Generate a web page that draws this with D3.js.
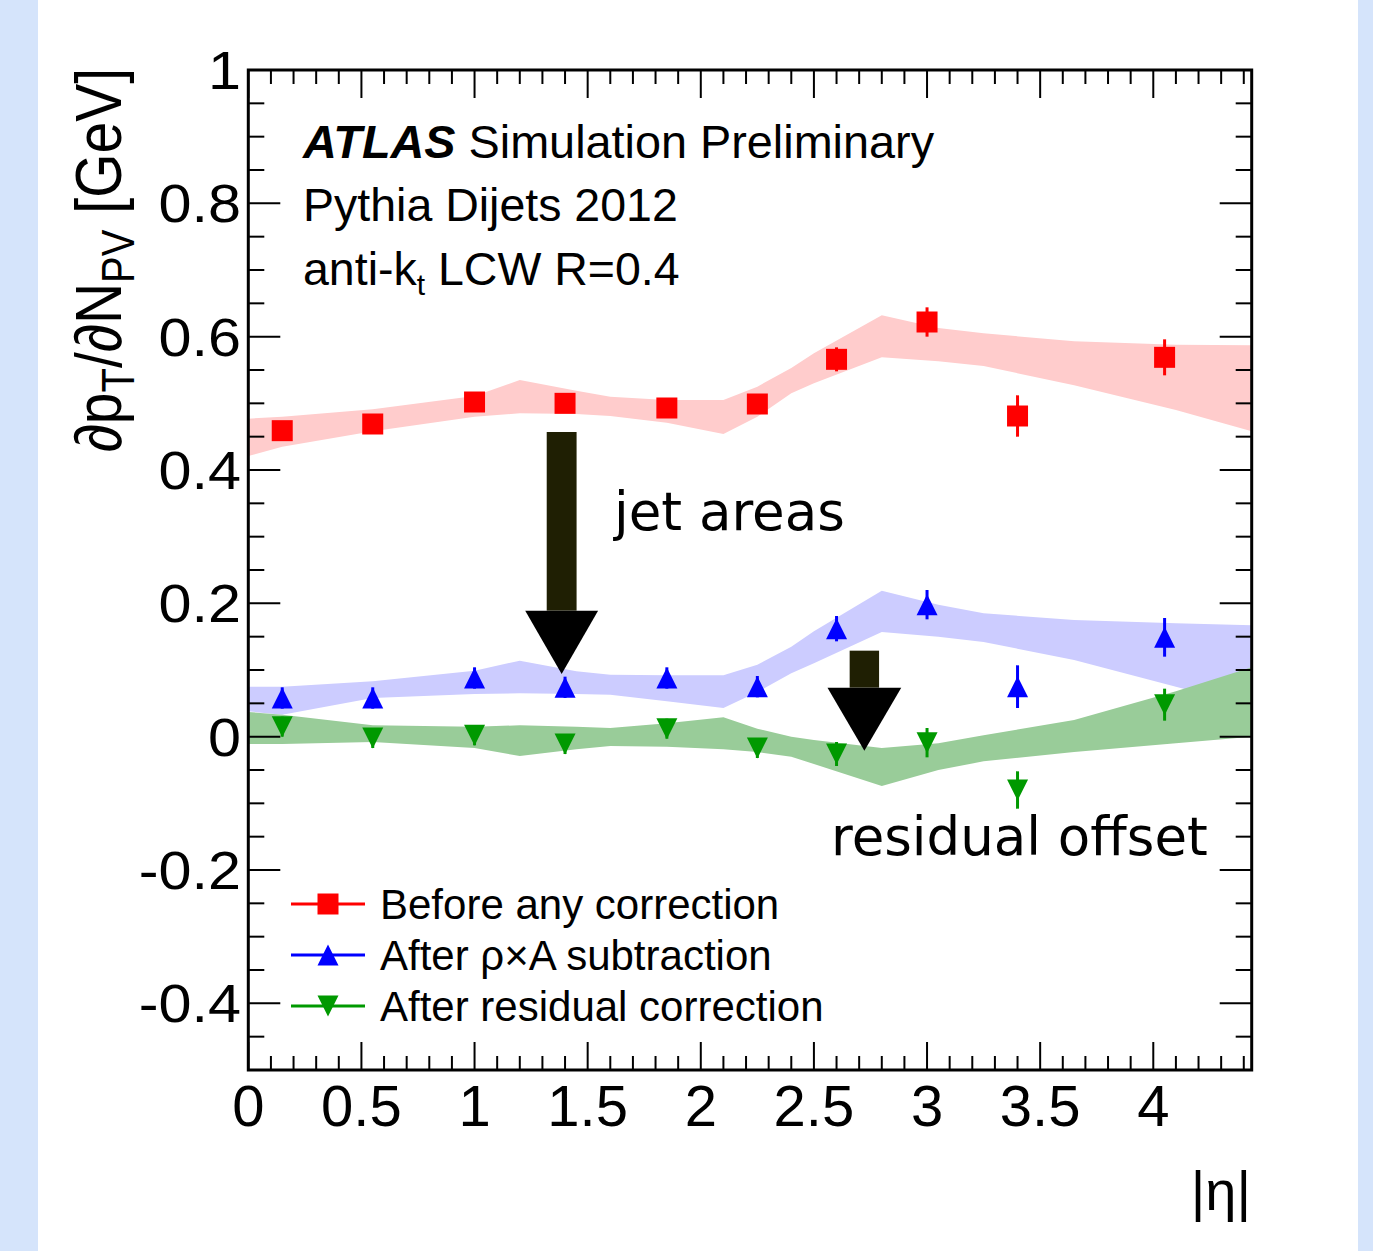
<!DOCTYPE html>
<html><head><meta charset="utf-8">
<script src="https://cdn.jsdelivr.net/npm/d3@7"></script>
<style>body{margin:0;background:#fff;overflow:hidden}</style>
</head><body>
<svg id="c" width="1373" height="1251" xmlns="http://www.w3.org/2000/svg"></svg>
<script>
// ---------- data ----------
const pointEta = [0.15, 0.55, 1.0, 1.4, 1.85, 2.25, 2.6, 3.0, 3.4, 4.05];
const beforeVals = [0.459, 0.469, 0.502, 0.500, 0.493, 0.499, 0.566, 0.622, 0.481, 0.569];
const beforeErr  = [0.010, 0.010, 0.010, 0.010, 0.010, 0.010, 0.018, 0.022, 0.031, 0.027];
const rhoAVals   = [0.058, 0.058, 0.088, 0.074, 0.088, 0.075, 0.162, 0.198, 0.075, 0.149];
const rhoAErr    = [0.016, 0.016, 0.016, 0.016, 0.016, 0.016, 0.019, 0.022, 0.032, 0.029];
const residVals  = [0.015, -0.002, 0.002, -0.011, 0.012, -0.017, -0.026, -0.009, -0.080, 0.048];
const residErr   = [0.015, 0.015, 0.015, 0.015, 0.015, 0.015, 0.018, 0.022, 0.028, 0.024];

const bandEta    = [0, 0.15, 0.55, 1.0, 1.2, 1.45, 1.6, 1.85, 2.1, 2.25, 2.4, 2.5, 2.8, 3.05, 3.25, 3.65, 4.1, 4.435];
const beforeHi   = [0.477, 0.480, 0.491, 0.511, 0.535, 0.519, 0.510, 0.505, 0.505, 0.525, 0.553, 0.575, 0.632, 0.613, 0.605, 0.593, 0.588, 0.587];
const beforeLo   = [0.421, 0.435, 0.458, 0.480, 0.485, 0.484, 0.481, 0.471, 0.454, 0.480, 0.515, 0.530, 0.569, 0.563, 0.556, 0.527, 0.490, 0.458];
const rhoAHi     = [0.075, 0.075, 0.083, 0.099, 0.114, 0.098, 0.093, 0.092, 0.092, 0.108, 0.135, 0.158, 0.219, 0.198, 0.185, 0.175, 0.170, 0.167];
const rhoALo     = [0.038, 0.033, 0.058, 0.064, 0.065, 0.064, 0.063, 0.053, 0.043, 0.067, 0.095, 0.110, 0.157, 0.150, 0.142, 0.115, 0.075, 0.045];
const residHi    = [0.037, 0.033, 0.017, 0.015, 0.017, 0.015, 0.013, 0.020, 0.029, 0.012, 0.000, -0.005, -0.017, -0.010, 0.002, 0.025, 0.068, 0.104];
const residLo    = [-0.011, -0.011, -0.008, -0.017, -0.029, -0.019, -0.014, -0.015, -0.019, -0.023, -0.030, -0.041, -0.074, -0.050, -0.037, -0.023, -0.010, 0.000];

const legendLabels = ["Before any correction", "After \u03C1\u00D7A subtraction", "After residual correction"];
const xTickLabels = ["0", "0.5", "1", "1.5", "2", "2.5", "3", "3.5", "4"];
const yTickLabels = ["-0.4", "-0.2", "0", "0.2", "0.4", "0.6", "0.8", "1"];

// arrows: [etaCenter, yTop, yHeadBase, yTip, shaftHalfWidth(eta), headHalfWidth(eta)]
const arrowJet   = [1.385, 0.457, 0.189, 0.094, 0.066, 0.161];
const arrowResid = [2.723, 0.129, 0.0735, -0.021, 0.065, 0.163];

// ---------- layout ----------
const svg = d3.select("#c");
const W = 1373, H = 1251;
const L = 248.3, R = 1251.7, T = 70.0, B = 1070.0;
const x = d3.scaleLinear().domain([0, 4.435]).range([L, R]);
const y = d3.scaleLinear().domain([-0.5, 1.0]).range([B, T]);

svg.append("rect").attr("x",0).attr("y",0).attr("width",W).attr("height",H).attr("fill","#d5e4fb");
svg.append("rect").attr("x",38).attr("y",0).attr("width",1320).attr("height",H).attr("fill","#ffffff");

const FONT = "'Liberation Sans', Arial, Helvetica, sans-serif";

const series = [
  {vals: beforeVals, err: beforeErr, hi: beforeHi, lo: beforeLo, color: "#ff0000", band: "#ffcccc", marker: "square"},
  {vals: rhoAVals, err: rhoAErr, hi: rhoAHi, lo: rhoALo, color: "#0000ff", band: "#ccccff", marker: "up"},
  {vals: residVals, err: residErr, hi: residHi, lo: residLo, color: "#009900", band: "#99cc99", marker: "down"}
];

const area = d3.area().x((d,i)=>x(bandEta[i])).y0(d=>y(d[0])).y1(d=>y(d[1]));
series.forEach(s => {
  const pts = bandEta.map((e,i)=>[s.lo[i], s.hi[i]]);
  svg.append("path").attr("d", area(pts)).attr("fill", s.band).attr("stroke","none");
});

function markerPath(type, cx, cy, r) {
  if (type === "square") return `M${cx-r},${cy-r}H${cx+r}V${cy+r}H${cx-r}Z`;
  if (type === "up") return `M${cx},${cy-r}L${cx+r},${cy+r}L${cx-r},${cy+r}Z`;
  return `M${cx-r},${cy-r}L${cx+r},${cy-r}L${cx},${cy+r}Z`;
}

series.forEach(s => {
  const g = svg.append("g");
  pointEta.forEach((e,i) => {
    g.append("line").attr("x1", x(e)).attr("x2", x(e))
      .attr("y1", y(s.vals[i]-s.err[i])).attr("y2", y(s.vals[i]+s.err[i]))
      .attr("stroke", s.color).attr("stroke-width", 3);
  });
  pointEta.forEach((e,i) => {
    g.append("path").attr("d", markerPath(s.marker, x(e), y(s.vals[i]), 10.5)).attr("fill", s.color);
  });
});

function drawArrow(a) {
  const [cx, yt, yb, ytip, sw, hw] = a;
  svg.append("rect").attr("x", x(cx-sw)).attr("y", y(yt))
    .attr("width", x(cx+sw)-x(cx-sw)).attr("height", y(yb)-y(yt)).attr("fill","#1f1f03");
  svg.append("path").attr("d", `M${x(cx-hw)},${y(yb)}L${x(cx+hw)},${y(yb)}L${x(cx)},${y(ytip)}Z`).attr("fill","#000");
}
drawArrow(arrowJet);
drawArrow(arrowResid);

// frame + ticks
const ax = svg.append("g").attr("stroke","#000");
function tick(x1,y1,x2,y2,w){ ax.append("line").attr("x1",x1).attr("y1",y1).attr("x2",x2).attr("y2",y2).attr("stroke-width",w||2); }
d3.range(0, 45).forEach(k => {
  const v = k/10; if (v > 4.435) return;
  const px = x(v), major = (k % 5 === 0), len = major ? 28 : 14;
  tick(px, B, px, B-len); tick(px, T, px, T+len);
});
d3.range(-10, 21).forEach(k => {
  const v = k*0.05, py = y(v), major = (k % 4 === 0), len = major ? 32 : 16;
  tick(L, py, L+len, py); tick(R, py, R-len, py);
});
svg.append("rect").attr("x",L).attr("y",T).attr("width",R-L).attr("height",B-T)
  .attr("fill","none").attr("stroke","#000").attr("stroke-width",3);

// tick labels
xTickLabels.forEach(t => {
  svg.append("text").attr("x", x(+t)).attr("y", 1126).attr("text-anchor","middle")
    .attr("font-family", FONT).attr("font-size", 58).text(t);
});
yTickLabels.forEach(t => {
  svg.append("text").attr("transform", `translate(241,${y(+t)+19}) scale(1.12,1)`).attr("text-anchor","end")
    .attr("font-family", FONT).attr("font-size", 53).text(t);
});

// axis titles
const yt = svg.append("text").attr("transform","translate(121,68) rotate(-90) scale(1,1.15)")
  .attr("text-anchor","end").attr("font-family",FONT).attr("font-size",57);
yt.append("tspan").text("\u2202p");
yt.append("tspan").attr("font-size",40).attr("dy",11).text("T");
yt.append("tspan").attr("dy",-11).text("/\u2202N");
yt.append("tspan").attr("font-size",40).attr("dy",11).text("PV");
yt.append("tspan").attr("dy",-11).text(" [GeV]");

svg.append("text").attr("x",1251).attr("y",1210).attr("text-anchor","end")
  .attr("font-family",FONT).attr("font-size",56).text("|\u03B7|");

// ATLAS labels
const t1 = svg.append("text").attr("x",303).attr("y",158).attr("font-family",FONT).attr("font-size",46.8);
t1.append("tspan").attr("font-weight","bold").attr("font-style","italic").text("ATLAS");
t1.append("tspan").text(" Simulation Preliminary");
svg.append("text").attr("x",303).attr("y",221).attr("font-family",FONT).attr("font-size",46.5).text("Pythia Dijets 2012");
const t3 = svg.append("text").attr("x",303).attr("y",285).attr("font-family",FONT).attr("font-size",46.5);
t3.append("tspan").text("anti-k");
t3.append("tspan").attr("font-size",30).attr("dy",10).text("t");
t3.append("tspan").attr("dy",-10).text(" LCW R=0.4");

// annotations
svg.append("text").attr("x",614).attr("y",530).attr("font-family","'DejaVu Sans', sans-serif").attr("font-size",53).text("jet areas");
svg.append("text").attr("x",831).attr("y",855).attr("font-family","'DejaVu Sans', sans-serif").attr("font-size",53).text("residual offset");

// legend
const legY = [904, 955, 1006];
series.forEach((s,i) => {
  svg.append("line").attr("x1",291).attr("x2",365).attr("y1",legY[i]).attr("y2",legY[i])
    .attr("stroke",s.color).attr("stroke-width",3);
  svg.append("path").attr("d", markerPath(s.marker, 328, legY[i], 10.5)).attr("fill", s.color);
  svg.append("text").attr("x",380).attr("y",legY[i]+15).attr("font-family",FONT).attr("font-size",42).text(legendLabels[i]);
});
</script>
</body></html>
